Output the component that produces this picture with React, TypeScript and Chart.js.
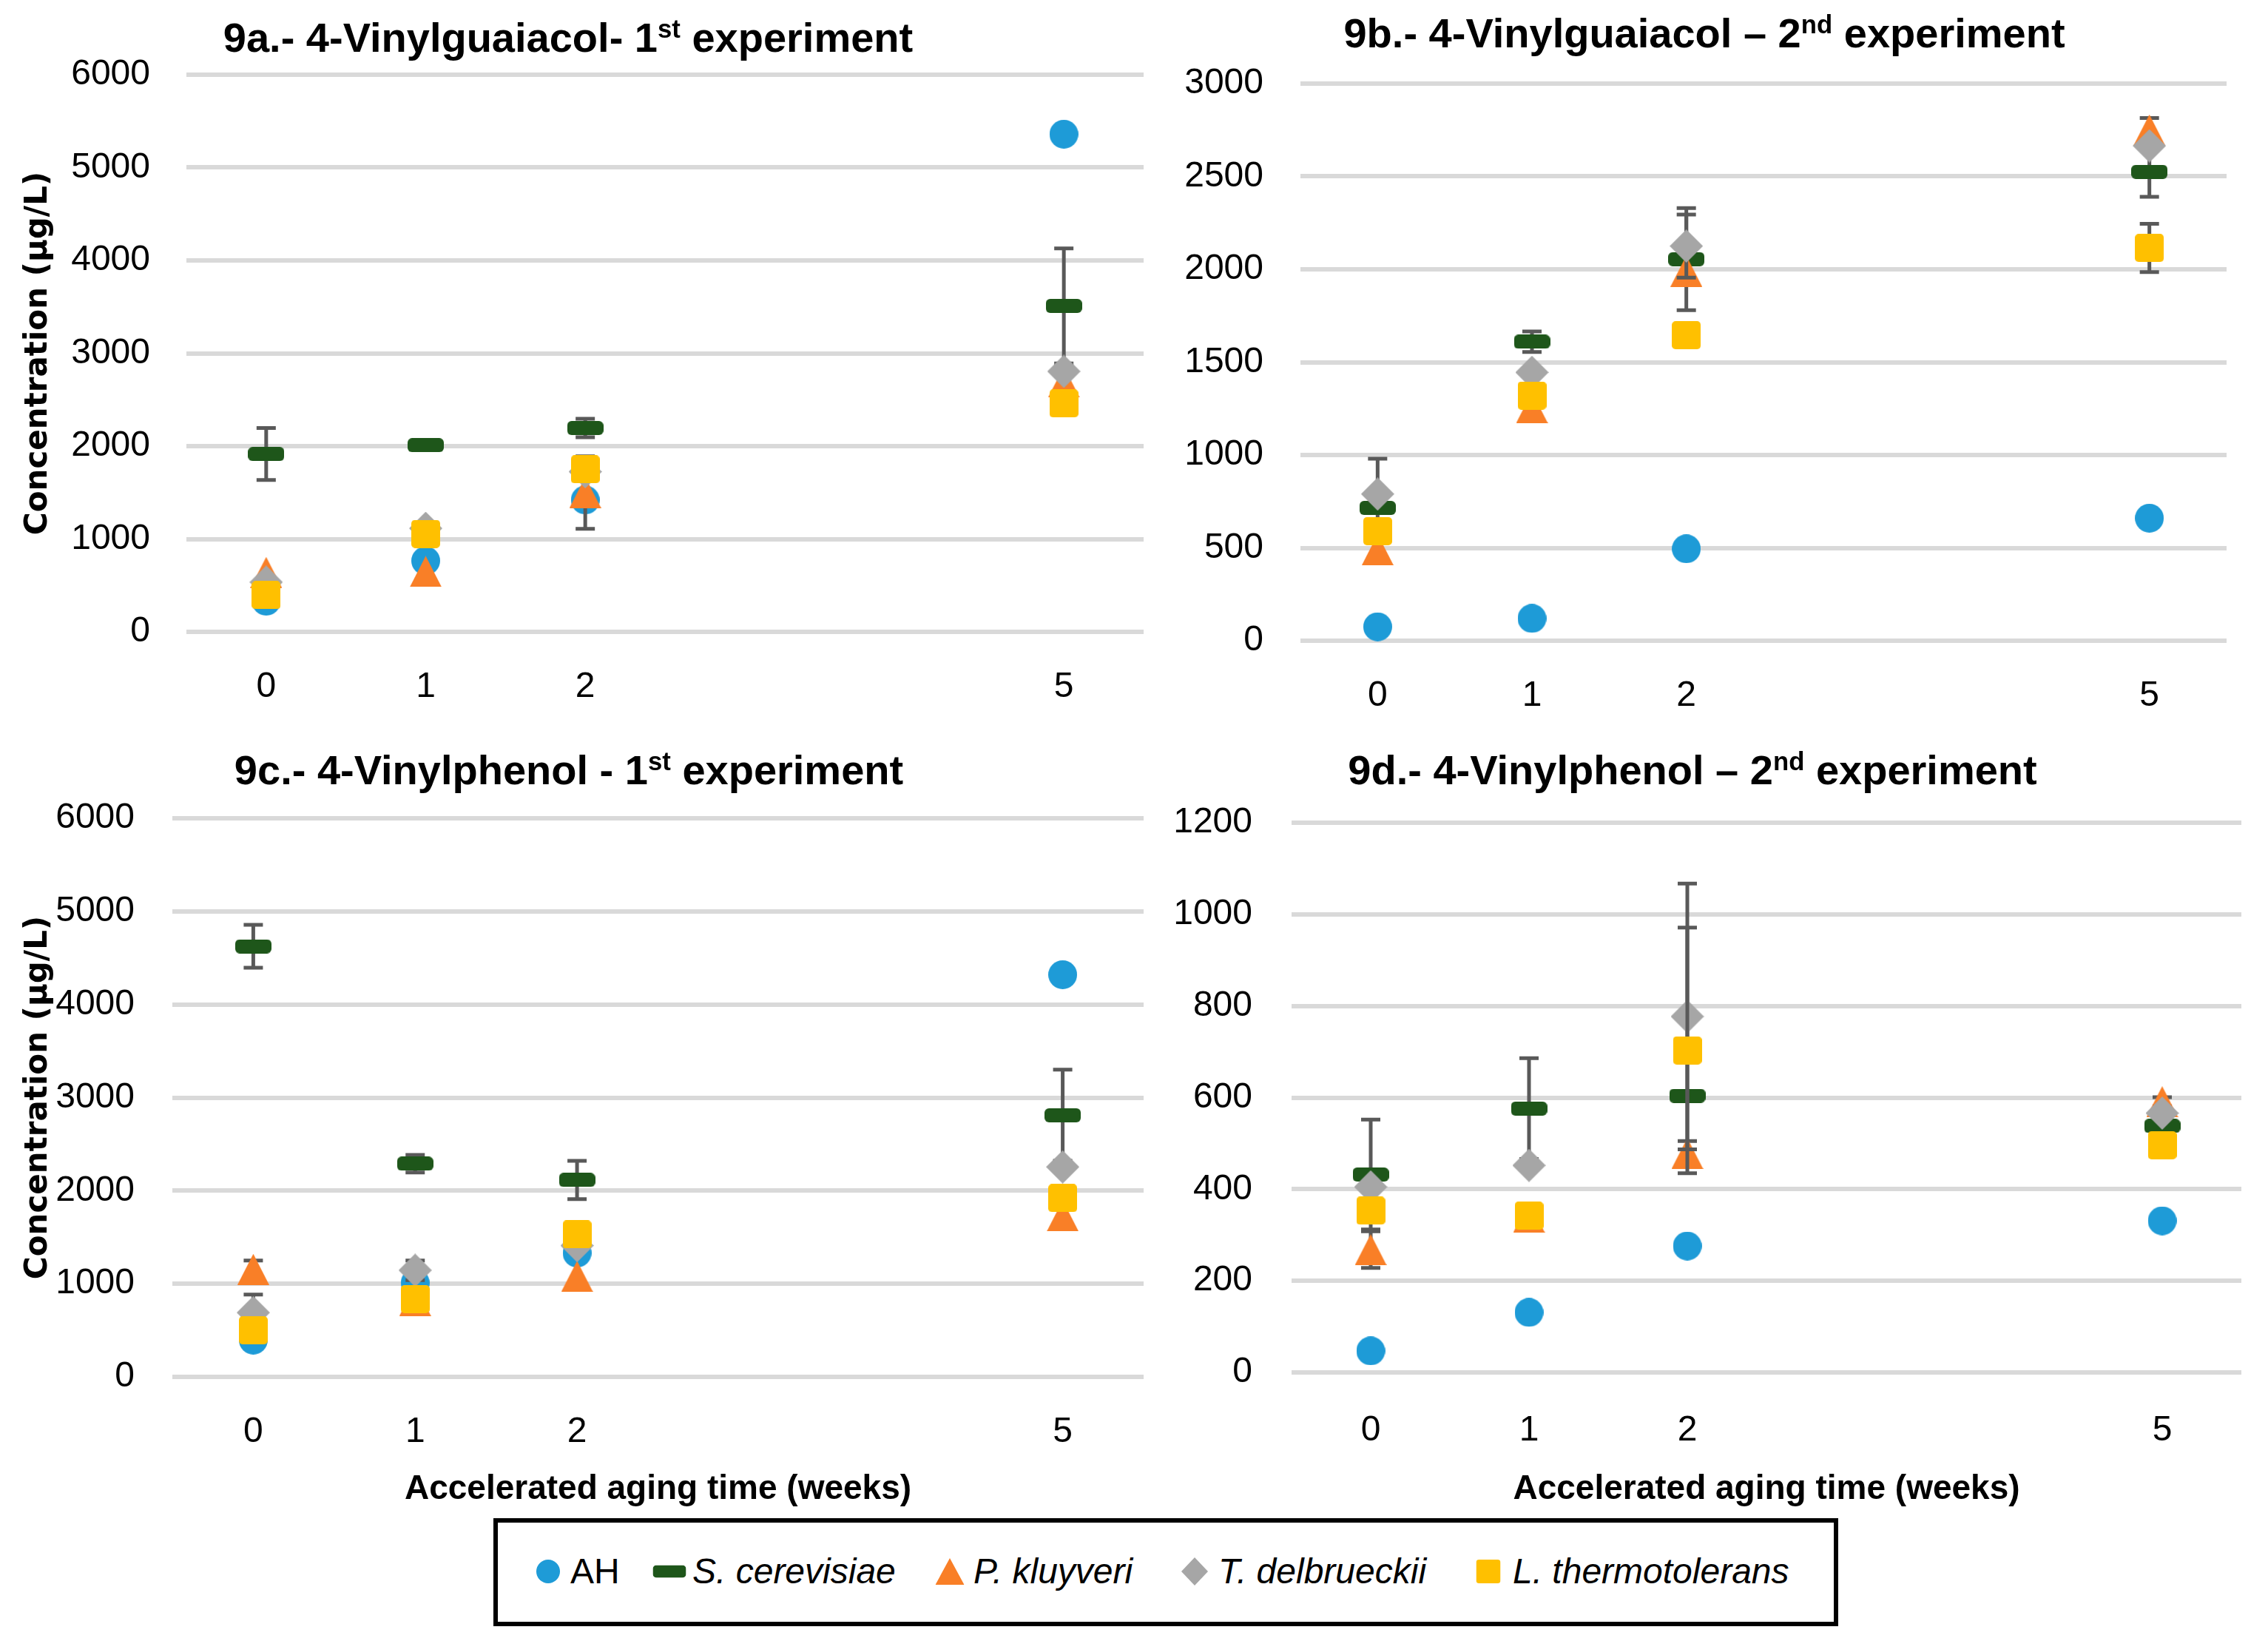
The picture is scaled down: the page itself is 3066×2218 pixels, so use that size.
import React, { useEffect, useRef } from "react";
import { Chart, registerables } from "chart.js";

Chart.register(...registerables);

// ---------- data ----------
const weeks = [0, 1, 2, 5];
const seriesNames = ["AH", "S. cerevisiae", "P. kluyveri", "T. delbrueckii", "L. thermotolerans"];
const seriesItalic = [false, true, true, true, true];
const seriesColors = ["#1E9BD7", "#1E561A", "#F97F27", "#A6A6A6", "#FFC000"];
const seriesShapes = ["circle", "dash", "triangle", "diamond", "square"];

// 9a 4-Vinylguaiacol 1st experiment
const vg1AH = [330, 765, 1420, 5360];
const vg1SC = [1915, 2010, 2195, 3510];
const vg1PK = [640, 650, 1500, 2690];
const vg1TD = [535, 1115, 1725, 2805];
const vg1LT = [395, 1055, 1750, 2460];
const vg1ErrAH = [0, 0, 0, 0];
const vg1ErrSC = [280, 30, 100, 620];
const vg1ErrPK = [0, 0, 390, 0];
const vg1ErrTD = [0, 0, 0, 0];
const vg1ErrLT = [0, 0, 0, 0];

// 9b 4-Vinylguaiacol 2nd experiment
const vg2AH = [75, 120, 495, 660];
const vg2SC = [715, 1610, 2055, 2525];
const vg2PK = [490, 1255, 1990, 2750];
const vg2TD = [790, 1445, 2125, 2665];
const vg2LT = [590, 1320, 1645, 2115];
const vg2ErrAH = [0, 0, 0, 0];
const vg2ErrSC = [265, 55, 275, 135];
const vg2ErrPK = [0, 65, 0, 65];
const vg2ErrTD = [0, 0, 170, 0];
const vg2ErrLT = [0, 0, 65, 130];

// 9c 4-Vinylphenol 1st experiment
const vp1AH = [395, 1010, 1330, 4320];
const vp1SC = [4625, 2290, 2115, 2810];
const vp1PK = [1155, 820, 1080, 1730];
const vp1TD = [690, 1145, 1410, 2255];
const vp1LT = [500, 835, 1530, 1920];
const vp1ErrAH = [0, 0, 0, 0];
const vp1ErrSC = [230, 95, 205, 490];
const vp1ErrPK = [95, 130, 0, 105];
const vp1ErrTD = [195, 105, 0, 0];
const vp1ErrLT = [0, 0, 0, 0];

// 9d 4-Vinylphenol 2nd experiment
const vp2AH = [47, 131, 276, 331];
const vp2SC = [432, 576, 604, 538];
const vp2PK = [268, 339, 478, 591];
const vp2TD = [405, 452, 777, 566];
const vp2LT = [353, 342, 703, 496];
const vp2ErrAH = [0, 0, 0, 0];
const vp2ErrSC = [120, 110, 0, 0];
const vp2ErrPK = [40, 27, 27, 10];
const vp2ErrTD = [0, 0, 290, 0];
const vp2ErrLT = [0, 0, 268, 0];

// axis ticks
const yMaxA = 6000, yStepA = 1000;
const yMaxB = 3000, yStepB = 500;
const yMaxC = 6000, yStepC = 1000;
const yMaxD = 1200, yStepD = 200;

const yAxisTitle = "Concentration (µg/L)";
const xAxisTitle = "Accelerated aging time (weeks)";

// ---------- styling ----------
const FONT = '"Liberation Sans", Arial, sans-serif';
const TICK_SIZE = 48;
const GRID_COLOR = "#D9D9D9";
const ERR_COLOR = "#595959";

const markerSizes: Record<string, [number, number]> = {
  circle: [39, 39],
  dash: [49, 19],
  triangle: [43, 42],
  diamond: [45, 45],
  square: [39, 38],
};

function makeMarker(kind: string, color: string): HTMLCanvasElement {
  const [w, h] = markerSizes[kind];
  const c = document.createElement("canvas");
  c.width = w;
  c.height = h;
  const g = c.getContext("2d")!;
  g.fillStyle = color;
  g.beginPath();
  if (kind === "circle") g.ellipse(w / 2, h / 2, w / 2, h / 2, 0, 0, Math.PI * 2);
  else if (kind === "dash") (g as any).roundRect(0, 0, w, h, 6);
  else if (kind === "triangle") { g.moveTo(w / 2, 0); g.lineTo(w, h); g.lineTo(0, h); g.closePath(); }
  else if (kind === "diamond") { g.moveTo(w / 2, 0); g.lineTo(w, h / 2); g.lineTo(w / 2, h); g.lineTo(0, h / 2); g.closePath(); }
  else (g as any).roundRect(0, 0, w, h, 5);
  g.fill();
  return c;
}

const errorBarPlugin = {
  id: "errorBars",
  beforeDatasetDraw(chart: any, args: any) {
    const ds = chart.data.datasets[args.index];
    const errs: number[] | undefined = ds.errors;
    if (!errs) return;
    const { ctx } = chart;
    const xs = chart.scales.x;
    const ys = chart.scales.y;
    ctx.save();
    ctx.strokeStyle = ERR_COLOR;
    ctx.lineWidth = 5;
    ds.data.forEach((p: any, i: number) => {
      const e = errs[i];
      if (!e) return;
      const px = xs.getPixelForValue(p.x);
      const t = ys.getPixelForValue(p.y + e);
      const b = ys.getPixelForValue(p.y - e);
      ctx.beginPath();
      ctx.moveTo(px, t); ctx.lineTo(px, b);
      ctx.moveTo(px - 13, t); ctx.lineTo(px + 13, t);
      ctx.moveTo(px - 13, b); ctx.lineTo(px + 13, b);
      ctx.stroke();
    });
    ctx.restore();
  },
};

type PanelProps = {
  values: number[][];
  errors: number[][];
  yMax: number;
  yStep: number;
  box: { left: number; top: number; width: number; height: number };
  area: { left: number; top: number; right: number; bottom: number };
  yPad: number;
  xPad: number;
  showYTitle: boolean;
  showXTitle: boolean;
};

function Panel(props: PanelProps) {
  const ref = useRef<HTMLCanvasElement | null>(null);
  useEffect(() => {
    const { box, area } = props;
    const datasets = props.values.map((vals, si) => ({
      label: seriesNames[si],
      data: weeks.map((w, i) => ({ x: w, y: vals[i] })),
      errors: props.errors[si],
      pointStyle: makeMarker(seriesShapes[si], seriesColors[si]),
      pointRadius: 10,
      pointHoverRadius: 10,
      backgroundColor: seriesColors[si],
      borderColor: seriesColors[si],
      order: 4 - si,
      clip: false as any,
    }));
    const chart = new Chart(ref.current!, {
      type: "scatter",
      data: { datasets: datasets as any },
      plugins: [errorBarPlugin as any],
      options: {
        animation: false,
        responsive: false,
        devicePixelRatio: 1,
        events: [],
        layout: {
          padding: { top: area.top - box.top, right: box.left + box.width - area.right, left: 0, bottom: 0 },
        },
        plugins: { legend: { display: false }, tooltip: { enabled: false }, title: { display: false } },
        scales: {
          x: {
            type: "linear",
            min: -0.5,
            max: 5.5,
            afterBuildTicks: (s: any) => { s.ticks = weeks.map((v) => ({ value: v })); },
            afterFit: (s: any) => { s.height = box.top + box.height - area.bottom; },
            grid: { display: false, drawTicks: false },
            border: { display: false },
            ticks: {
              padding: props.xPad,
              color: "#000",
              font: { family: FONT, size: TICK_SIZE },
              callback: (v: any) => String(v),
            },
            title: {
              display: props.showXTitle,
              text: xAxisTitle,
              color: "#000",
              font: { family: FONT, size: 46, weight: "bold" },
              padding: { top: 0, bottom: 0 },
            },
          },
          y: {
            min: 0,
            max: props.yMax,
            afterFit: (s: any) => { s.width = area.left - box.left; },
            grid: { color: GRID_COLOR, lineWidth: 6, drawTicks: false },
            border: { display: false },
            ticks: {
              stepSize: props.yStep,
              padding: props.yPad,
              color: "#000",
              font: { family: FONT, size: TICK_SIZE },
              callback: (v: any) => String(v),
            },
            title: {
              display: props.showYTitle,
              text: yAxisTitle,
              color: "#000",
              font: { family: '"DejaVu Sans", sans-serif', size: 42, weight: "bold" },
              padding: { top: 27, bottom: 0 },
            },
          },
        },
      } as any,
    });
    return () => chart.destroy();
  }, []);
  const { box } = props;
  return (
    <canvas
      ref={ref}
      width={box.width}
      height={box.height}
      style={{ position: "absolute", left: box.left, top: box.top, width: box.width, height: box.height }}
    />
  );
}

function Title(p: { cx: number; cy: number; pre: string; sup: string; post: string }) {
  const size = 56;
  return (
    <div
      style={{
        position: "absolute",
        left: p.cx,
        top: p.cy - size / 2,
        transform: "translateX(-50%)",
        fontFamily: FONT,
        fontWeight: "bold",
        fontSize: size,
        lineHeight: 1,
        whiteSpace: "nowrap",
        color: "#000",
      }}
    >
      {p.pre}
      <sup style={{ fontSize: "0.62em", lineHeight: 0, verticalAlign: "0.55em" }}>{p.sup}</sup>
      {p.post}
    </div>
  );
}

function LegendMarker({ kind, color }: { kind: string; color: string }) {
  const dims: Record<string, [number, number]> = {
    circle: [32, 32], dash: [45, 17], triangle: [39, 36], diamond: [36, 38], square: [33, 32],
  };
  const [w, h] = dims[kind];
  let shape: React.ReactNode = null;
  if (kind === "circle") shape = <ellipse cx={w / 2} cy={h / 2} rx={w / 2} ry={h / 2} fill={color} />;
  else if (kind === "dash") shape = <rect x={0} y={0} width={w} height={h} rx={5} fill={color} />;
  else if (kind === "triangle") shape = <polygon points={`${w / 2},0 ${w},${h} 0,${h}`} fill={color} />;
  else if (kind === "diamond") shape = <polygon points={`${w / 2},0 ${w},${h / 2} ${w / 2},${h} 0,${h / 2}`} fill={color} />;
  else shape = <rect x={0} y={0} width={w} height={h} rx={4} fill={color} />;
  return <svg width={w} height={h} style={{ display: "block" }}>{shape}</svg>;
}

const legendMarkerX = [741, 905, 1284, 1615, 2012];
const legendTextX = [771, 936, 1316, 1647, 2045];

function Legend() {
  const boxL = 667, boxT = 2052, boxW = 1818, boxH = 146, cy = 2124;
  return (
    <>
      <div
        style={{
          position: "absolute", left: boxL, top: boxT, width: boxW, height: boxH,
          boxSizing: "border-box", border: "6px solid #000", background: "#fff",
        }}
      />
      {seriesNames.map((n, i) => (
        <React.Fragment key={n}>
          <div style={{ position: "absolute", left: legendMarkerX[i], top: cy, transform: "translate(-50%,-50%)" }}>
            <LegendMarker kind={seriesShapes[i]} color={seriesColors[i]} />
          </div>
          <div
            style={{
              position: "absolute", left: legendTextX[i], top: cy - 24, fontFamily: FONT, fontSize: 48,
              lineHeight: 1, fontStyle: seriesItalic[i] ? "italic" : "normal", whiteSpace: "nowrap", color: "#000",
            }}
          >
            {n}
          </div>
        </React.Fragment>
      ))}
    </>
  );
}

export default function App() {
  return (
    <div style={{ position: "absolute", left: 0, top: 0, width: 3066, height: 2218, background: "#fff", overflow: "hidden" }}>
      <Panel
        values={[vg1AH, vg1SC, vg1PK, vg1TD, vg1LT]}
        errors={[vg1ErrAH, vg1ErrSC, vg1ErrPK, vg1ErrTD, vg1ErrLT]}
        yMax={yMaxA} yStep={yStepA}
        box={{ left: 0, top: 0, width: 1560, height: 1000 }}
        area={{ left: 252, top: 101, right: 1546, bottom: 854 }}
        yPad={49} xPad={46} showYTitle={true} showXTitle={false}
      />
      <Panel
        values={[vg2AH, vg2SC, vg2PK, vg2TD, vg2LT]}
        errors={[vg2ErrAH, vg2ErrSC, vg2ErrPK, vg2ErrTD, vg2ErrLT]}
        yMax={yMaxB} yStep={yStepB}
        box={{ left: 1530, top: 0, width: 1536, height: 1000 }}
        area={{ left: 1758, top: 113, right: 3010, bottom: 866 }}
        yPad={50} xPad={46} showYTitle={false} showXTitle={false}
      />
      <Panel
        values={[vp1AH, vp1SC, vp1PK, vp1TD, vp1LT]}
        errors={[vp1ErrAH, vp1ErrSC, vp1ErrPK, vp1ErrTD, vp1ErrLT]}
        yMax={yMaxC} yStep={yStepC}
        box={{ left: 0, top: 1000, width: 1560, height: 1041 }}
        area={{ left: 233, top: 1106, right: 1546, bottom: 1861 }}
        yPad={51} xPad={46} showYTitle={true} showXTitle={true}
      />
      <Panel
        values={[vp2AH, vp2SC, vp2PK, vp2TD, vp2LT]}
        errors={[vp2ErrAH, vp2ErrSC, vp2ErrPK, vp2ErrTD, vp2ErrLT]}
        yMax={yMaxD} yStep={yStepD}
        box={{ left: 1530, top: 1000, width: 1536, height: 1041 }}
        area={{ left: 1746, top: 1112, right: 3030, bottom: 1855 }}
        yPad={53} xPad={50} showYTitle={false} showXTitle={true}
      />
      <Title cx={768} cy={51} pre="9a.- 4-Vinylguaiacol- 1" sup="st" post=" experiment" />
      <Title cx={2304} cy={45} pre="9b.- 4-Vinylguaiacol – 2" sup="nd" post=" experiment" />
      <Title cx={769} cy={1041} pre="9c.- 4-Vinylphenol - 1" sup="st" post=" experiment" />
      <Title cx={2288} cy={1041} pre="9d.- 4-Vinylphenol – 2" sup="nd" post=" experiment" />
      <Legend />
    </div>
  );
}
